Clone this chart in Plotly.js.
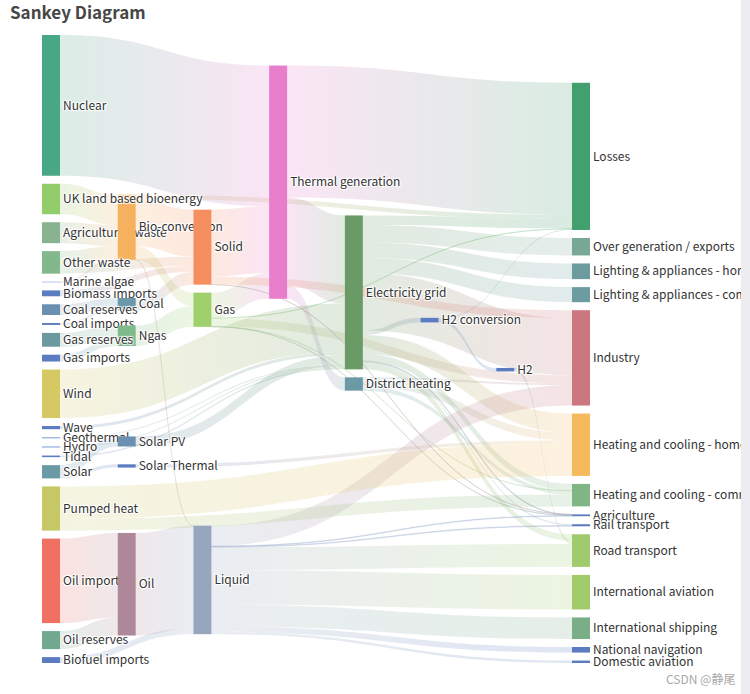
<!DOCTYPE html>
<html><head><meta charset="utf-8">
<script src="https://cdn.plot.ly/plotly-3.0.1.min.js"></script>
<style>
body{margin:0;background:#fff;}
#wrap{position:relative;width:750px;height:694px;overflow:hidden;}
#chart{position:absolute;left:0;top:0;width:741px;height:694px;overflow:hidden;}
#bar{position:absolute;left:741px;top:0;width:9px;height:694px;background:#ececf1;}
#wm{position:absolute;left:666px;top:670px;font:12px "Noto Sans CJK SC",sans-serif;color:#a8a8a8;}
</style>
</head><body>
<div id="wrap"><div id="chart"></div><div id="bar"></div><div id="wm">CSDN @静尾</div></div>
<script>
const nodeNames = [
 "Agricultural 'waste'","Bio-conversion","Liquid","Losses","Solid","Gas","Biofuel imports","Biomass imports",
 "Coal imports","Coal","Coal reserves","District heating","Industry","Heating and cooling - commercial",
 "Heating and cooling - homes","Electricity grid","Over generation / exports","H2 conversion","Road transport",
 "Agriculture","Rail transport","Lighting & appliances - commercial","Lighting & appliances - homes","Gas imports",
 "Ngas","Gas reserves","Thermal generation","Geothermal","H2","Hydro","International shipping","Domestic aviation",
 "International aviation","National navigation","Marine algae","Nuclear","Oil imports","Oil","Oil reserves",
 "Other waste","Pumped heat","Solar PV","Solar Thermal","Solar","Tidal","UK land based bioenergy","Wave","Wind"
];
const nodeColors = [
 "#88b290","#f6b15e","#97a6bd","#41a06e","#f58f5f","#9ed06c","#5b7cc0","#5b7cc0",
 "#5b7cc0","#6a98aa","#6b8fb0","#6b99a6","#cc767f","#80b686",
 "#f6ba5e","#6a9a66","#7aa896","#5b7cc0","#9fcb6e",
 "#5b7cc0","#5b7cc0","#6c9ca0","#6c9c9e","#5b7cc0",
 "#7fba8c","#6c98a0","#e87dcb","#8fa6e0","#5b7cc0","#8fa6e0","#79ae86","#5b7cc0",
 "#a2cb6c","#5b7cc0","#9ab0e8","#48a785","#f07062","#ae8898","#72a890",
 "#82b88c","#c6c866","#6b90b2","#5b7cc0","#6a9aa6","#5b7cc0","#93cd6b","#5b7cc0","#d6c862"
];
const linkSource = [
 "Agricultural 'waste'","Bio-conversion","Bio-conversion","Bio-conversion","Bio-conversion","Biofuel imports",
 "Biomass imports","Coal imports","Coal reserves","Coal","District heating","District heating","District heating",
 "Electricity grid","Electricity grid","Electricity grid","Electricity grid","Electricity grid","Electricity grid",
 "Electricity grid","Electricity grid","Electricity grid","Electricity grid","Electricity grid",
 "Gas imports","Gas reserves","Gas","Gas","Gas","Gas","Gas","Geothermal","H2 conversion","H2 conversion","H2",
 "Hydro","Liquid","Liquid","Liquid","Liquid","Liquid","Liquid","Liquid","Liquid","Marine algae","Ngas","Nuclear",
 "Oil imports","Oil reserves","Oil","Other waste","Other waste","Pumped heat","Pumped heat","Solar PV",
 "Solar Thermal","Solar","Solar","Solid","Solid","Solid","Thermal generation","Thermal generation",
 "Thermal generation","Tidal","UK land based bioenergy","Wave","Wind"
];
const linkTarget = [
 "Bio-conversion","Liquid","Losses","Solid","Gas","Liquid",
 "Solid","Coal","Coal","Solid","Industry","Heating and cooling - commercial","Heating and cooling - homes",
 "Over generation / exports","Heating and cooling - homes","H2 conversion","Industry","Road transport","Agriculture",
 "Heating and cooling - commercial","Losses","Rail transport","Lighting & appliances - commercial","Lighting & appliances - homes",
 "Ngas","Ngas","Heating and cooling - commercial","Losses","Thermal generation","Agriculture","Industry","Electricity grid","H2","Losses","Road transport",
 "Electricity grid","Industry","International shipping","Road transport","Domestic aviation","International aviation","Agriculture","National navigation","Rail transport","Bio-conversion","Gas","Thermal generation",
 "Oil","Oil","Liquid","Solid","Bio-conversion","Heating and cooling - homes","Heating and cooling - commercial","Electricity grid",
 "Heating and cooling - homes","Solar Thermal","Solar PV","Agriculture","Thermal generation","Industry","Electricity grid","Losses",
 "District heating","Electricity grid","Bio-conversion","Electricity grid","Electricity grid"
];
const linkValue = [
 124.729,0.597,26.862,280.322,81.144,35,
 35,11.606,63.965,75.571,10.639,22.505,46.184,
 104.453,113.726,27.14,342.165,37.797,4.412,
 40.858,56.691,7.863,90.008,93.494,
 40.719,82.233,0.129,1.401,151.891,2.096,48.58,7.013,20.897,6.242,20.897,
 6.995,121.066,128.69,135.835,14.458,206.267,3.64,33.218,4.413,4.375,122.952,839.978,
 504.287,107.703,611.99,56.587,77.81,193.026,70.672,59.901,
 19.263,19.263,59.901,0.882,400.12,46.477,525.531,787.129,
 79.329,9.452,182.01,19.013,289.366
];

function hexToRgb(h){return [parseInt(h.substr(1,2),16),parseInt(h.substr(3,2),16),parseInt(h.substr(5,2),16)];}
function mix(a,b,alpha){
  const ca=hexToRgb(a), cb=hexToRgb(b);
  const c=ca.map((v,i)=>Math.round(v*0.5+cb[i]*0.5));
  return `rgba(${c[0]},${c[1]},${c[2]},${alpha})`;
}
const idx = n => nodeNames.indexOf(n);
const src = linkSource.map(idx), tgt = linkTarget.map(idx);
const linkColors = src.map((s,i)=>mix(nodeColors[s], nodeColors[tgt[i]], 0.2));

// geometry of the drawing area
const W = 741, HT = 694, M = {l:42, r:151, t:35, b:31};
const DW = W - M.l - M.r, DH = HT - M.t - M.b, THICK = 18, GAP = 8;

// ECharts-style sankey relaxation (justify alignment, 32 iterations), computed from the link data
function relaxLayout(){
  const N = nodeNames.length;
  const ins = nodeNames.map(()=>[]), outs = nodeNames.map(()=>[]);
  src.forEach((s,i)=>{const e={s, t:tgt[i], v:linkValue[i]}; outs[s].push(e); ins[tgt[i]].push(e);});
  const tot = a => a.reduce((p,e)=>p+e.v,0);
  const val = nodeNames.map((_,i)=>Math.max(tot(ins[i]), tot(outs[i])));
  const indeg = ins.map(a=>a.length), depth = new Array(N).fill(0);
  let zero = []; for(let i=0;i<N;i++) if(!indeg[i]) zero.push(i);
  let x = 0;
  while(zero.length){
    const next=[];
    for(const n of zero){ depth[n]=x; for(const e of outs[n]){ if(--indeg[e.t]===0 && next.indexOf(e.t)<0) next.push(e.t); } }
    x++; zero=next;
  }
  const maxDepth = x-1;
  for(let i=0;i<N;i++) if(!outs[i].length) depth[i]=maxDepth;
  const cols = []; for(let d=0; d<=maxDepth; d++) cols.push([]);
  for(let i=0;i<N;i++) cols[depth[i]].push(i);
  const y = new Array(N).fill(0), dy = new Array(N).fill(0);
  let ky = Infinity;
  cols.forEach(c=>{ const s=c.reduce((p,i)=>p+val[i],0); ky=Math.min(ky,(DH-(c.length-1)*GAP)/s); });
  cols.forEach(c=>c.forEach((n,i)=>{ y[n]=i; dy[n]=val[n]*ky; }));
  const center = n => y[n]+dy[n]/2;
  function resolve(){
    cols.forEach(c=>{
      c.sort((a,b)=>y[a]-y[b]);
      let y0=0, node, d;
      for(let i=0;i<c.length;i++){ node=c[i]; d=y0-y[node]; if(d>0) y[node]+=d; y0=y[node]+dy[node]+GAP; }
      d=y0-GAP-DH;
      if(d>0){
        y[node]-=d; y0=y[node];
        for(let i=c.length-2;i>=0;i--){ node=c[i]; d=y[node]+dy[node]+GAP-y0; if(d>0) y[node]-=d; y0=y[node]; }
      }
    });
  }
  resolve();
  let alpha = 1;
  for(let it=32; it>0; it--){
    alpha *= 0.99;
    cols.slice().reverse().forEach(c=>c.forEach(n=>{
      if(outs[n].length){ const w=outs[n].reduce((p,e)=>p+center(e.t)*e.v,0)/tot(outs[n]); y[n]+=(w-center(n))*alpha; }
    }));
    resolve();
    cols.forEach(c=>c.forEach(n=>{
      if(ins[n].length){ const w=ins[n].reduce((p,e)=>p+center(e.s)*e.v,0)/tot(ins[n]); y[n]+=(w-center(n))*alpha; }
    }));
    resolve();
  }
  const kx = (DW-THICK)/maxDepth;
  return {
    x: depth.map(d=>(d*kx+THICK/2)/DW),
    y: nodeNames.map((_,n)=>center(n)/DH)
  };
}
const pos = relaxLayout();

const FONT = '"Noto Sans CJK SC", "Noto Sans", sans-serif';
const trace = {
  type:'sankey',
  arrangement:'snap',
  node:{label:nodeNames, color:nodeColors, pad:GAP, thickness:THICK, line:{width:0}, x:pos.x, y:pos.y},
  link:{source:src, target:tgt, value:linkValue, color:linkColors},
  textfont:{family:FONT, size:12, color:'#333'}
};
const layout = {
  width:W, height:HT,
  margin:M,
  paper_bgcolor:'#fff',
  font:{family:FONT},
  title:{text:'<b>Sankey Diagram</b>', x:10/W, xanchor:'left', xref:'container', y:1-13/HT, yanchor:'middle', yref:'container',
    font:{size:17, color:'#464646', family:FONT}}
};
Plotly.newPlot('chart',[trace],layout,{displayModeBar:false}).then(()=>{
  // labels on the right-hand side of every node
  document.querySelectorAll('#chart .sankey-node').forEach(g=>{
    const t = g.querySelector('.node-label'), r = g.querySelector('.node-rect');
    if(!t || !r) return;
    if((t.getAttribute('text-anchor')||t.style.textAnchor)==='end'){
      const m = /translate\(\s*([-\d.e]+)[ ,]+([-\d.e]+)\s*\)/.exec(t.getAttribute('transform')||'');
      if(!m) return;
      const w = parseFloat(r.getAttribute('width'))||0;
      t.setAttribute('transform', `translate(${w - parseFloat(m[1])},${m[2]})`);
      t.setAttribute('text-anchor','start');
      t.style.textAnchor='start';
    }
  });
  // source-to-target colour gradient on each link
  const ns = 'http://www.w3.org/2000/svg';
  const svg = document.querySelector('#chart svg.main-svg');
  let defs = svg.querySelector('defs');
  if(!defs){ defs = document.createElementNS(ns,'defs'); svg.insertBefore(defs, svg.firstChild); }
  document.querySelectorAll('#chart .sankey-link').forEach((p,k)=>{
    const d = p.__data__;
    let i = k;
    if(d && d.link && typeof d.link.pointNumber === 'number') i = d.link.pointNumber;
    if(i == null || src[i] == null) return;
    const g = document.createElementNS(ns,'linearGradient');
    g.setAttribute('id','lkgrad'+k);
    g.setAttribute('x1','0'); g.setAttribute('y1','0'); g.setAttribute('x2','1'); g.setAttribute('y2','0');
    [[0,nodeColors[src[i]]],[1,nodeColors[tgt[i]]]].forEach(([o,c])=>{
      const s = document.createElementNS(ns,'stop');
      s.setAttribute('offset', o); s.setAttribute('stop-color', c);
      g.appendChild(s);
    });
    defs.appendChild(g);
    p.style.fill = `url(#lkgrad${k})`;
    p.style.fillOpacity = '0.2';
  });
});
</script>
</body></html>
